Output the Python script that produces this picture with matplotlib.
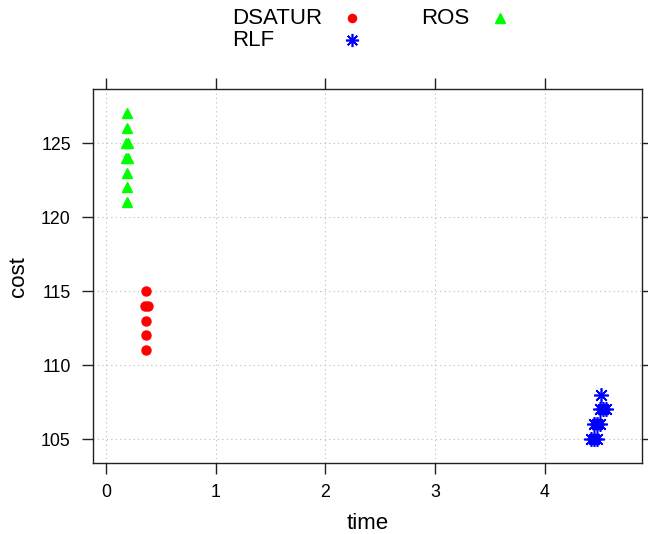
import matplotlib
matplotlib.use("Agg")
import matplotlib.pyplot as plt
from matplotlib.lines import Line2D

plt.rcParams["font.family"] = ["Liberation Sans", "DejaVu Sans"]

dsatur_time = [0.36, 0.35, 0.38, 0.36, 0.36, 0.36]
dsatur_cost = [115, 114, 114, 113, 112, 111]
rlf_time = [4.51, 4.50, 4.53, 4.56, 4.45, 4.48, 4.50, 4.42, 4.45, 4.48]
rlf_cost = [108, 107, 107, 107, 106, 106, 106, 105, 105, 105]
ros_time = [0.19, 0.19, 0.18, 0.20, 0.18, 0.20, 0.19, 0.19, 0.19]
ros_cost = [127, 126, 125, 125, 124, 124, 123, 122, 121]

x_ticks = [0, 1, 2, 3, 4]
y_ticks = [105, 110, 115, 120, 125]

W, H = 648, 534
fig = plt.figure(figsize=(W / 100, H / 100), dpi=100)
ax = fig.add_axes([0.1435, 0.133, 0.847, 0.700])

styles = {
    "DSATUR": dict(marker="o", color="#FF0000", markersize=6.5),
    "RLF": dict(marker=(8, 2, 0), color="#0000FF", markersize=10.5, markeredgewidth=1.2),
    "ROS": dict(marker="^", color="#00FF00", markersize=7.5),
}

ax.plot(dsatur_time, dsatur_cost, linestyle="none", **styles["DSATUR"])
ax.plot(rlf_time, rlf_cost, linestyle="none", **styles["RLF"])
ax.plot(ros_time, ros_cost, linestyle="none", **styles["ROS"])

ax.set_xlim(-0.12, 4.886)
ax.set_ylim(103.38, 128.64)
ax.set_xticks(x_ticks)
ax.set_yticks(y_ticks)
ax.grid(True, color="#BBBBBB", linestyle=(0, (1, 3)), linewidth=0.8)
ax.set_axisbelow(True)
ax.tick_params(direction="out", length=8, width=1, labelsize=12.8,
               top=True, right=True, colors="#222222", labelcolor="black")
ax.tick_params(axis="x", pad=7)
ax.tick_params(axis="y", pad=8)
for s in ax.spines.values():
    s.set_color("#222222")
    s.set_linewidth(1)

ax.set_xlabel("time", fontsize=16, labelpad=9)
ax.set_ylabel("cost", fontsize=16, labelpad=9)

# key on top, laid out as in lattice: text then symbol
key = [("DSATUR", 232, 352, 18), ("RLF", 232, 352, 40), ("ROS", 421, 500, 18)]
for name, tx, mx, y in key:
    fig.text(tx / W, 1 - y / H, name, fontsize=16, ha="left", va="center")
    st = dict(styles[name])
    st["markersize"] = st["markersize"] * 0.9
    fig.add_artist(Line2D([mx / W], [1 - y / H], linestyle="none",
                          transform=fig.transFigure, **st))

fig.savefig("out.png", dpi=100)
